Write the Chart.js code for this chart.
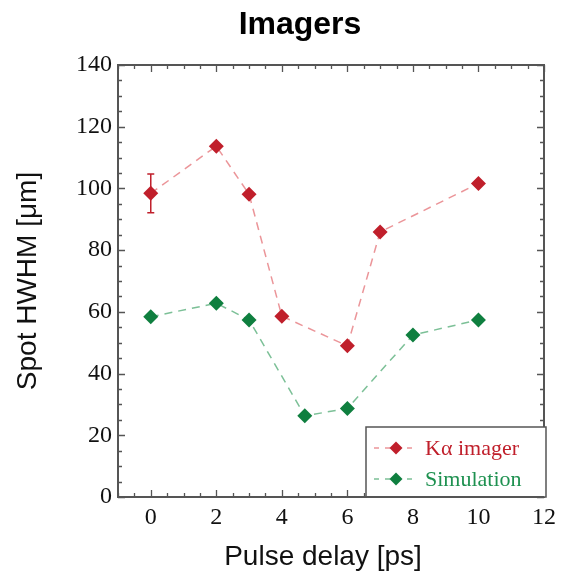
<!DOCTYPE html>
<html>
<head>
<meta charset="utf-8">
<script src="https://cdn.jsdelivr.net/npm/chart.js@4/dist/chart.umd.min.js"></script>
<style>
  html, body { margin: 0; padding: 0; background: #fff; }
  #wrap { width: 562px; height: 577px; position: relative; }
</style>
</head>
<body>
<div id="wrap"><canvas id="c"></canvas></div>
<script>
// ---- data ----
const chartTitle = "Imagers";
const xAxisTitle = "Pulse delay [ps]";
const yAxisTitle = "Spot HWHM [μm]";
const seriesNames = ["Kα imager", "Simulation"];
const kaDelay = [0, 2, 3, 4, 6, 7, 10];
const kaHwhm = [98.4, 113.7, 98.1, 58.6, 49.0, 85.9, 101.6];
const kaError = [6.3, 0, 0, 0, 0, 0, 0];
const simDelay = [0, 2, 3, 4.7, 6, 8, 10];
const simHwhm = [58.4, 62.8, 57.4, 26.3, 28.7, 52.5, 57.4];
const xTickValues = [0, 2, 4, 6, 8, 10, 12];
const yTickValues = [0, 20, 40, 60, 80, 100, 120, 140];

const RED = '#c01f2b';
const GREEN = '#0f7f3f';
const RED_LINE = 'rgba(232,130,135,0.85)';
const GREEN_LINE = 'rgba(110,185,140,0.9)';
const AXIS = '#555';

const framePlugin = {
  id: 'frame',
  beforeDatasetsDraw(chart) {
    const {ctx, scales: {x, y}} = chart;
    ctx.save();
    ctx.strokeStyle = RED;
    ctx.lineWidth = 1.5;
    kaError.forEach((e, i) => {
      if (!e) return;
      const px = x.getPixelForValue(kaDelay[i]);
      const top = y.getPixelForValue(kaHwhm[i] + e);
      const bot = y.getPixelForValue(kaHwhm[i] - e);
      ctx.beginPath();
      ctx.moveTo(px, top); ctx.lineTo(px, bot);
      ctx.moveTo(px - 3.5, top); ctx.lineTo(px + 3.5, top);
      ctx.moveTo(px - 3.5, bot); ctx.lineTo(px + 3.5, bot);
      ctx.stroke();
    });
    ctx.restore();
  },
  afterDatasetsDraw(chart) {
    const {ctx, chartArea: a, scales: {x, y}} = chart;
    ctx.save();
    ctx.strokeStyle = AXIS;
    ctx.lineWidth = 1.3;
    ctx.beginPath();
    for (let v = -1; v <= 12.001; v += 0.5) {
      const px = Math.round(x.getPixelForValue(v)) + 0.5;
      const major = Math.abs(v / 2 - Math.round(v / 2)) < 1e-6;
      const len = major ? 7 : 4;
      ctx.moveTo(px, a.bottom); ctx.lineTo(px, a.bottom - len);
      ctx.moveTo(px, a.top); ctx.lineTo(px, a.top + len);
    }
    for (let v = 0; v <= 140.001; v += 5) {
      const py = Math.round(y.getPixelForValue(v)) + 0.5;
      const major = v % 20 === 0;
      const len = major ? 7 : 4;
      ctx.moveTo(a.left, py); ctx.lineTo(a.left + len, py);
      ctx.moveTo(a.right, py); ctx.lineTo(a.right - len, py);
    }
    ctx.stroke();
    ctx.lineWidth = 2;
    ctx.strokeRect(a.left, a.top, a.right - a.left, a.bottom - a.top);

    // legend box
    const lx = 366, ly = 427, lw = 180, lh = a.bottom - 427;
    ctx.fillStyle = '#fff';
    ctx.fillRect(lx, ly, lw, lh);
    ctx.lineWidth = 1.5;
    ctx.strokeStyle = AXIS;
    ctx.strokeRect(lx, ly, lw, lh);
    ctx.lineWidth = 2;
    ctx.beginPath(); ctx.moveTo(lx - 1, a.bottom); ctx.lineTo(a.right, a.bottom); ctx.stroke();

    const rows = [
      {name: chart.data.datasets[0].label, line: RED_LINE, mark: RED, text: RED, cy: 448},
      {name: chart.data.datasets[1].label, line: GREEN_LINE, mark: GREEN, text: '#1e9150', cy: 479}
    ];
    rows.forEach(r => {
      ctx.strokeStyle = r.line;
      ctx.lineWidth = 1.5;
      ctx.setLineDash([5, 6]);
      ctx.beginPath(); ctx.moveTo(374, r.cy); ctx.lineTo(416, r.cy); ctx.stroke();
      ctx.setLineDash([]);
      ctx.fillStyle = r.mark;
      const R = 6.5, cx = 396;
      ctx.beginPath();
      ctx.moveTo(cx, r.cy - R); ctx.lineTo(cx + R, r.cy); ctx.lineTo(cx, r.cy + R); ctx.lineTo(cx - R, r.cy);
      ctx.closePath(); ctx.fill();
      ctx.fillStyle = r.text;
      ctx.font = '22px "Liberation Serif"';
      ctx.textBaseline = 'middle';
      ctx.textAlign = 'left';
      ctx.fillText(r.name, 425, r.cy + 1);
    });

    ctx.fillStyle = '#000';
    ctx.textAlign = 'center';
    ctx.textBaseline = 'alphabetic';
    ctx.font = 'bold 32px "Liberation Sans"';
    ctx.fillText(chartTitle, 300, 34);
    ctx.font = '28px "Liberation Sans"';
    ctx.fillStyle = '#111';
    ctx.fillText(xAxisTitle, 323, 565);
    ctx.restore();
  }
};

const ctx = document.getElementById('c');
new Chart(ctx, {
  type: 'scatter',
  data: {
    datasets: [
      {
        label: seriesNames[0],
        data: kaDelay.map((d, i) => ({x: d, y: kaHwhm[i]})),
        showLine: true,
        borderColor: RED_LINE,
        borderWidth: 1.5,
        borderDash: [8, 6],
        pointStyle: 'rectRot',
        pointRadius: 7.5,
        pointBackgroundColor: RED,
        pointBorderColor: RED,
        pointBorderWidth: 0
      },
      {
        label: seriesNames[1],
        data: simDelay.map((d, i) => ({x: d, y: simHwhm[i]})),
        showLine: true,
        borderColor: GREEN_LINE,
        borderWidth: 1.5,
        borderDash: [8, 6],
        pointStyle: 'rectRot',
        pointRadius: 7.5,
        pointBackgroundColor: GREEN,
        pointBorderColor: GREEN,
        pointBorderWidth: 0
      }
    ]
  },
  options: {
    responsive: true,
    maintainAspectRatio: false,
    animation: false,
    layout: { padding: { top: 65, right: 12, left: 0, bottom: 0 } },
    plugins: {
      legend: { display: false },
      tooltip: { enabled: false },
      title: { display: false }
    },
    scales: {
      x: {
        type: 'linear',
        min: -1, max: 12,
        afterBuildTicks: s => { s.ticks = xTickValues.map(v => ({value: v})); },
        ticks: { font: { family: 'Liberation Serif', size: 24 }, color: '#111', padding: 6 },
        grid: { display: false, drawTicks: false },
        border: { display: false },
        afterFit: s => { s.height = 80; }
      },
      y: {
        min: 0, max: 140,
        afterBuildTicks: s => { s.ticks = yTickValues.map(v => ({value: v})); },
        ticks: { font: { family: 'Liberation Serif', size: 24 }, color: '#111', padding: 6 },
        grid: { display: false, drawTicks: false },
        border: { display: false },
        title: { display: true, text: yAxisTitle, font: { family: 'Liberation Sans', size: 28 }, color: '#111', padding: { top: 11, bottom: 0 } },
        afterFit: s => { s.width = 118; }
      }
    }
  },
  plugins: [framePlugin]
});
</script>
</body>
</html>
